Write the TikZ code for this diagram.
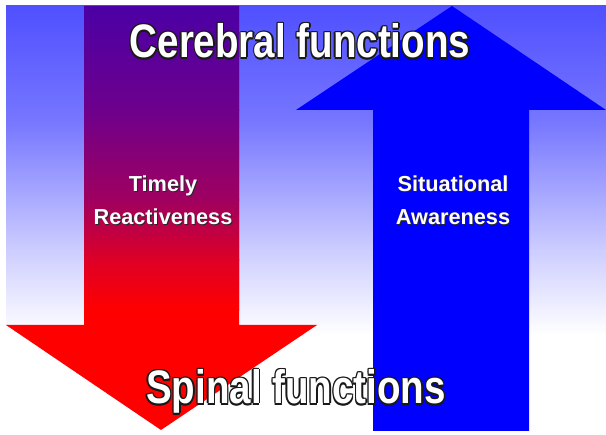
\documentclass[tikz,border=0pt]{standalone}
\usepackage{graphicx}
\usepackage{fontspec}
\setmainfont{Liberation Sans}
\definecolor{bgA}{RGB}{80,80,255}
\definecolor{bgB}{RGB}{118,118,255}
\definecolor{bgC}{RGB}{205,205,255}
\definecolor{laA}{RGB}{75,0,165}
\definecolor{laB}{RGB}{110,0,140}
\definecolor{laC}{RGB}{160,0,95}
\definecolor{laD}{RGB}{222,0,38}
\definecolor{laE}{RGB}{255,0,0}
\definecolor{raC}{RGB}{0,0,255}
\definecolor{olC}{RGB}{25,25,25}
\definecolor{txW}{RGB}{255,255,255}
\definecolor{shC}{RGB}{40,40,40}
\newdimen\olA \olA=1.6pt
\newdimen\olB \olB=1.13pt
\newcommand\outlinedtext[1]{%
  \rlap{\kern\olA\textcolor{olC}{#1}}%
  \rlap{\kern-\olA\textcolor{olC}{#1}}%
  \rlap{\raise\olA\hbox{\textcolor{olC}{#1}}}%
  \rlap{\raise-\olA\hbox{\textcolor{olC}{#1}}}%
  \rlap{\kern\olB\raise\olB\hbox{\textcolor{olC}{#1}}}%
  \rlap{\kern-\olB\raise\olB\hbox{\textcolor{olC}{#1}}}%
  \rlap{\kern\olB\raise-\olB\hbox{\textcolor{olC}{#1}}}%
  \rlap{\kern-\olB\raise-\olB\hbox{\textcolor{olC}{#1}}}%
  \textcolor{txW}{#1}}
\newcommand\shadowtext[1]{%
  \rlap{\kern1pt\raise-1pt\hbox{\textcolor{shC}{#1}}}%
  \textcolor{txW}{#1}}
\tikzset{
  bigtitle/.style={anchor=base,inner sep=0pt,font=\fontsize{47}{47}\selectfont\bfseries},
  armlabel/.style={anchor=base,inner sep=0pt,font=\fontsize{21.7}{21.7}\selectfont\bfseries},
}
\begin{document}
\begin{tikzpicture}[x=1pt,y=-1pt]
\useasboundingbox (0,0) rectangle (606,435);
% background
\begin{scope}
  \clip (6,6) rectangle (606,435);
  \fill[white] (6,6) rectangle (606,435);
  \shade[top color=bgA,bottom color=bgB] (6,6) rectangle (606,120.5);
  \shade[top color=bgB,bottom color=bgC] (6,120) rectangle (606,250.5);
  \shade[top color=bgC,bottom color=white] (6,250) rectangle (606,335);
\end{scope}
% left (down) arrow
\begin{scope}
  \clip (84,6) -- (239,6) -- (239,325) -- (317,325) -- (161,430) -- (6,325) -- (84,325) -- cycle;
  \fill[laE] (0,0) rectangle (330,435);
  \shade[top color=laA,bottom color=laB] (0,6) rectangle (330,110.5);
  \shade[top color=laB,bottom color=laC] (0,110) rectangle (330,200.5);
  \shade[top color=laC,bottom color=laD] (0,200) rectangle (330,260.5);
  \shade[top color=laD,bottom color=laE] (0,260) rectangle (330,310.5);
\end{scope}
% right (up) arrow
\fill[raC] (373,431) -- (373,110) -- (296,110) -- (452,6) -- (606,110) -- (529,110) -- (529,431) -- cycle;
% labels
\node[armlabel] (timely) at (163,192) {\shadowtext{Timely}};
\node[armlabel] (react) at (163,225) {\shadowtext{Reactiveness}};
\node[armlabel] (situ) at (453,192) {\shadowtext{Situational}};
\node[armlabel] (aware) at (453,225) {\shadowtext{Awareness}};
\node[bigtitle] (cerebral) at (300,58) {\scalebox{0.82}[1]{\outlinedtext{Cerebral functions}}};
\node[bigtitle] (spinal) at (296,404) {\scalebox{0.82}[1]{\outlinedtext{Spinal functions}}};
\end{tikzpicture}
\end{document}
